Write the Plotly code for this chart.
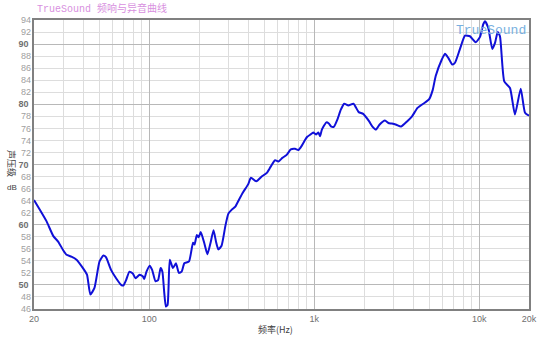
import plotly.graph_objects as go

freq_hz = [20, 21.7, 23.8, 26.2, 28.0, 30.0, 31.5, 33.7, 36.2, 39.6, 41.9, 43.9, 46.5, 49.9,
           52.7, 54.6, 58.6, 62.9, 67.5, 69.6, 72.3, 75.8, 79.4, 82.5, 87.3, 91.5, 93.1, 96.1,
           100.5, 104, 109, 113, 117, 120, 123, 126, 129, 133, 139, 145, 151, 157, 163, 174,
           184, 188, 194, 199, 205, 216, 225, 235, 245, 254, 262, 274, 289, 301, 316, 332,
           350, 370, 397, 413, 445, 480, 515, 543, 578, 606, 640, 680, 720, 764, 800, 838,
           880, 906, 949, 985, 1023, 1058, 1084, 1111, 1184, 1224, 1267, 1316, 1381, 1447,
           1517, 1608, 1728, 1857, 1977, 2145, 2250, 2365, 2481, 2680, 2810, 2950, 3140,
           3350, 3660, 3910, 4220, 4686, 4954, 5220, 5440, 5916, 6194, 6486, 6858, 7122,
           7634, 8186, 8778, 9506, 10094, 10568, 10820, 11330, 11984, 12446, 12920, 13340,
           14160, 15340, 16440, 17820, 18920, 20000]
spl_db = [64.1, 62.5, 60.6, 58.1, 57.2, 55.8, 55.0, 54.7, 54.2, 52.8, 51.7, 48.4, 49.5, 53.9,
          54.9, 54.6, 52.5, 51.1, 50.0, 49.9, 50.8, 52.2, 51.9, 51.1, 51.7, 51.4, 51.0, 52.2,
          53.2, 52.5, 50.6, 50.8, 52.8, 52.2, 48.9, 46.4, 46.7, 54.2, 52.8, 53.6, 52.0, 52.2,
          53.6, 53.9, 57.0, 56.7, 58.3, 57.9, 58.8, 56.8, 55.1, 57.0, 59.1, 57.1, 55.9, 56.5,
          59.8, 61.8, 62.5, 63.0, 64.2, 65.4, 66.7, 67.8, 67.2, 68.0, 68.6, 69.6, 70.7, 70.5,
          71.1, 71.6, 72.5, 72.6, 72.4, 73.1, 74.1, 74.6, 75.0, 75.3, 75.0, 75.3, 74.7, 75.8,
          77.0, 76.8, 76.3, 76.3, 77.5, 79.1, 80.1, 79.8, 80.1, 78.7, 78.4, 77.2, 76.3, 75.8,
          76.6, 77.3, 76.9, 76.8, 76.6, 76.3, 77.2, 78.0, 79.4, 80.3, 80.8, 82.4, 84.7, 87.4,
          88.4, 87.7, 86.6, 86.9, 89.2, 91.4, 91.3, 90.3, 91.2, 93.3, 93.8, 92.7, 89.2, 90.2,
          92.0, 91.3, 83.8, 82.7, 78.3, 82.6, 78.6, 78.1]

x_major_ticks = [20, 100, 1000, 10000, 20000]
x_major_labels = ["20", "100", "1k", "10k", "20k"]
x_minor_ticks = [30, 40, 50, 60, 70, 80, 90, 200, 300, 400, 500, 600, 700, 800, 900,
                 2000, 3000, 4000, 5000, 6000, 7000, 8000, 9000]
y_major_ticks = [50, 60, 70, 80, 90]
y_minor_ticks = [v for v in range(46, 95, 2) if v % 10 != 0]

FONT = "Liberation Sans, Arial, sans-serif"
MONO = "Liberation Mono, Courier New, monospace"

fig = go.Figure()
fig.add_trace(go.Scatter(x=freq_hz, y=spl_db, mode="lines",
                         line=dict(color="#1010d8", width=2, shape="spline", smoothing=0.5),
                         showlegend=False, hoverinfo="skip"))
# invisible helper trace so the secondary label axis exists
fig.add_trace(go.Scatter(x=[20, 20000], y=[46, 94], yaxis="y2", mode="markers",
                         marker=dict(opacity=0), showlegend=False, hoverinfo="skip"))

fig.update_layout(
    width=550, height=344,
    margin=dict(l=34, r=21, t=20, b=35),
    paper_bgcolor="white", plot_bgcolor="white",
    font=dict(family=FONT, size=9, color="#8a8a8a"),
    xaxis=dict(type="log", range=[1.30103, 4.30103],
               tickmode="array", tickvals=x_major_ticks, ticktext=x_major_labels,
               showgrid=True, gridcolor="#b8b8b8", gridwidth=1,
               minor=dict(tickmode="array", tickvals=x_minor_ticks, showgrid=True,
                          gridcolor="#dddddd", gridwidth=1, ticks=""),
               ticks="", ticklen=0,
               showline=True, linecolor="#808080", linewidth=1.5, mirror=True,
               tickfont=dict(size=9, color="#707070"), zeroline=False),
    yaxis=dict(range=[46, 94], tickmode="array", tickvals=y_major_ticks,
               ticktext=["<b>%d</b>" % v for v in y_major_ticks],
               showgrid=True, gridcolor="#b8b8b8", gridwidth=1,
               minor=dict(tickmode="array", tickvals=y_minor_ticks, showgrid=True,
                          gridcolor="#dddddd", gridwidth=1, ticks=""),
               ticks="", showline=True, linecolor="#808080", linewidth=1.5, mirror=True,
               tickfont=dict(size=9, color="#707070"), zeroline=False, ticklabelstandoff=2),
    yaxis2=dict(range=[46, 94], overlaying="y", side="left", tickmode="array",
                tickvals=y_minor_ticks, ticktext=[str(v) for v in y_minor_ticks],
                showgrid=False, zeroline=False, showline=False, ticks="",
                tickfont=dict(size=9, color="#a0a0a0"), ticklabelstandoff=2),
)

fig.add_annotation(text="TrueSound <span style='font-family:Noto Sans CJK SC'>频响与异音曲线</span>",
                   xref="paper", yref="paper", x=0.003, y=1.0, yshift=3,
                   xanchor="left", yanchor="bottom", showarrow=False,
                   font=dict(family=MONO, size=10, color="#d890e0"))
fig.add_annotation(text="TrueSound", xref="paper", yref="paper", x=0.998, y=0.998,
                   xanchor="right", yanchor="top", showarrow=False,
                   font=dict(family=MONO, size=13, color="#78b0e0"))
fig.add_annotation(text="频率(Hz)", xref="paper", yref="paper", x=0.487, y=0, yshift=-29,
                   xanchor="center", yanchor="bottom", showarrow=False,
                   font=dict(family="Noto Sans CJK SC", size=9, color="#404040"))
fig.add_annotation(text="声压级", xref="paper", yref="paper", x=0, xshift=-22, y=0.505,
                   xanchor="center", yanchor="middle", textangle=90, showarrow=False,
                   font=dict(family="Noto Sans CJK SC", size=9, color="#404040"))
fig.add_annotation(text="dB", xref="paper", yref="paper", x=0, xshift=-22, y=0.42,
                   xanchor="center", yanchor="middle", showarrow=False,
                   font=dict(family=FONT, size=8, color="#404040"))

fig.write_html("out.html")
